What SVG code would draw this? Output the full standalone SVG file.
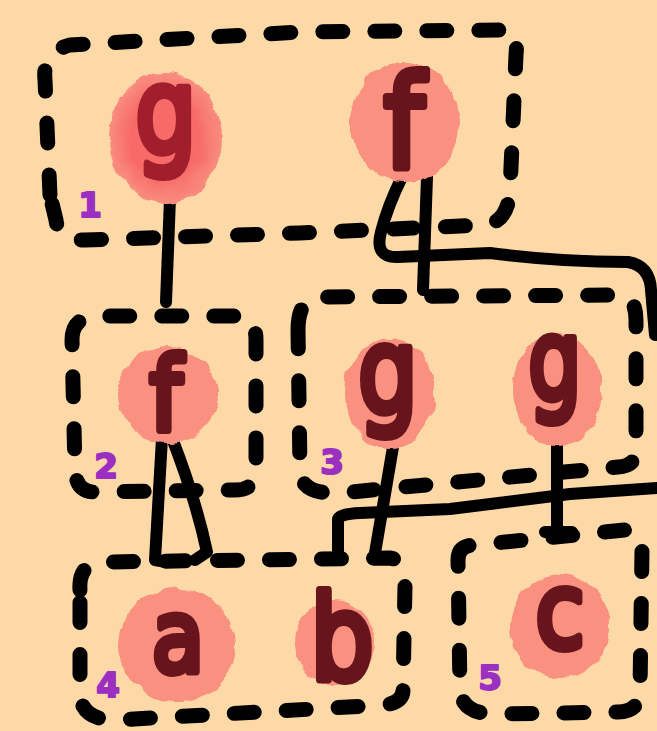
<svg xmlns="http://www.w3.org/2000/svg" width="657" height="731" viewBox="0 0 657 731">
<defs>
<filter id="rough" x="-20%" y="-20%" width="140%" height="140%">
<feTurbulence type="fractalNoise" baseFrequency="0.06" numOctaves="2" seed="3" result="n"/>
<feDisplacementMap in="SourceGraphic" in2="n" scale="9" xChannelSelector="R" yChannelSelector="G"/>
</filter>
<radialGradient id="red1" cx="0.5" cy="0.5" r="0.5">
<stop offset="0.6" stop-color="#F76A67"/>
<stop offset="1" stop-color="#F98D7E"/>
</radialGradient>
<style>
.grp{fill:none;stroke:#000;stroke-width:15;stroke-linecap:round;stroke-linejoin:round;stroke-dasharray:20 32}
.con{fill:none;stroke:#000;stroke-width:12;stroke-linecap:round;stroke-linejoin:round}
.blob{fill:#FA907F;filter:url(#rough)}
.let{font-family:"DejaVu Sans",sans-serif;font-weight:normal;fill:#67141D;stroke:#67141D;stroke-width:8;stroke-linejoin:round;stroke-linecap:round;text-anchor:middle}
.num{font-family:"DejaVu Sans",sans-serif;font-weight:bold;fill:#9A2FC2;stroke:#9A2FC2;stroke-width:2;stroke-linejoin:round;text-anchor:middle;font-size:34px}
</style>
</defs>
<rect width="657" height="731" fill="#FED9A8"/>
<g id="group1">
<path class="grp" d="M50,195 L45,80 Q42,52 70,45 L300,32 L510,30 Q518,34 516,55 L510,190 Q508,222 485,225 L300,233 L85,240 Q58,240 56,220 Z"/>
<text class="num" x="90" y="217">1</text>
</g>
<g id="group2">
<path class="grp" d="M72,340 Q72,318 95,316 L240,316 Q256,318 256,340 L256,470 Q256,490 235,490 L95,492 Q76,492 75,470 Z"/>
<text class="num" x="106" y="478">2</text>
</g>
<g id="group3">
<path class="grp" d="M298,330 Q298,298 320,297 L620,295 Q636,297 636,320 L636,450 Q636,466 618,467 L340,493 Q300,495 300,470 Z"/>
<text class="num" x="332" y="474">3</text>
</g>
<g id="group4">
<path class="grp" d="M80,590 Q78,562 105,562 L390,558 Q405,560 405,585 L403,690 Q403,702 385,705 L115,720 Q82,720 80,695 Z"/>
<text class="num" x="108" y="697">4</text>
</g>
<g id="group5">
<path class="grp" d="M458,560 Q458,545 475,545 L625,530 Q642,530 642,550 L640,690 Q640,712 618,712 L495,714 Q462,714 460,690 Z"/>
<text class="num" x="490" y="690">5</text>
</g>
<g id="connectors">
<path class="con" d="M170,198 L166,302"/>
<path class="con" d="M402,177 Q388,205 381,232 Q374,258 398,257 L490,253 Q560,262 628,262 Q650,266 651,290 L655,335"/>
<path class="con" d="M427,177 L423,290"/>
<path class="con" d="M162,438 L155,560 L166,562"/>
<path class="con" d="M172,438 Q196,500 207,552 L195,560"/>
<path class="con" d="M393,447 L375,553"/>
<path class="con" d="M557,442 L557,530 M545,532 L572,532"/>
<path class="con" d="M338,555 L338,520 Q338,514 360,513 L450,509 Q520,500 570,494 L657,488"/>
</g>
<g id="node-g1">
<ellipse cx="165" cy="138" rx="57" ry="65" fill="url(#red1)" filter="url(#rough)"/>
<text class="let" transform="translate(166,152) scale(0.82,1)" font-size="118" style="fill:#A11E2C;stroke:#A11E2C">g</text>
</g>
<g id="node-f1">
<ellipse class="blob" cx="405" cy="122" rx="55" ry="60"/>
<text class="let" transform="translate(404,168) scale(0.9,1)" font-size="128">f</text>
</g>
<g id="node-f2">
<ellipse class="blob" cx="168" cy="395" rx="50" ry="48"/>
<text class="let" transform="translate(166,430) scale(0.9,1)" font-size="102">f</text>
</g>
<g id="node-g2">
<ellipse class="blob" cx="390" cy="393" rx="45" ry="55"/>
<text class="let" transform="translate(388,412) scale(0.8,1)" font-size="118">g</text>
</g>
<g id="node-g3">
<ellipse class="blob" cx="557" cy="390" rx="45" ry="55"/>
<text class="let" transform="translate(555,400) scale(0.75,1)" font-size="112">g</text>
</g>
<g id="node-a">
<ellipse class="blob" cx="177" cy="645" rx="58" ry="57"/>
<text class="let" transform="translate(178,672) scale(0.85,1)" font-size="100">a</text>
</g>
<g id="node-b">
<ellipse class="blob" cx="335" cy="643" rx="40" ry="43"/>
<text class="let" transform="translate(342,680) scale(0.85,1)" font-size="118">b</text>
</g>
<g id="node-c">
<ellipse class="blob" cx="560" cy="627" rx="50" ry="52"/>
<text class="let" transform="translate(560,648) scale(0.85,1)" font-size="105">c</text>
</g>
</svg>
